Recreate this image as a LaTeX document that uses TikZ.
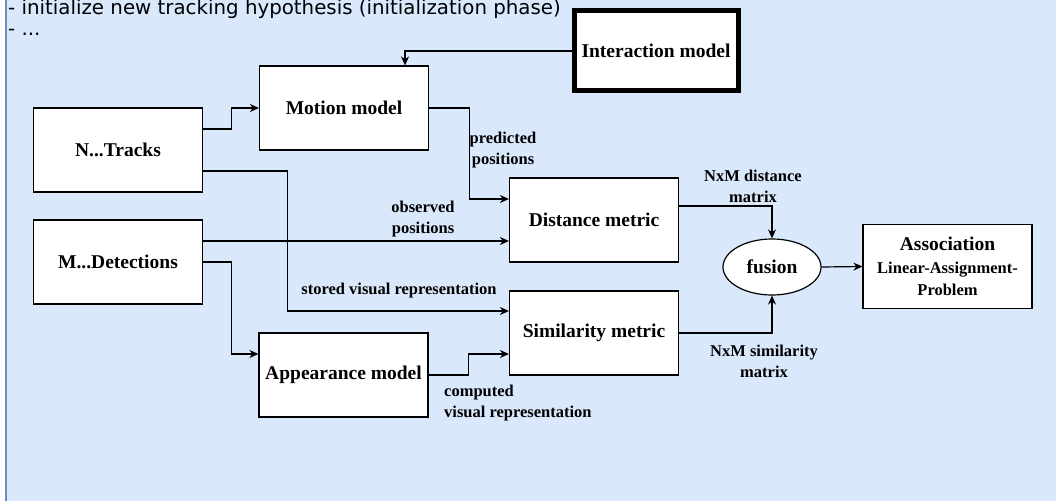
\documentclass[tikz,border=0pt]{standalone}
\usepackage{fontspec}
\setmainfont{Liberation Serif}
\newfontfamily\notefont{DejaVu Sans}
\usepackage{xcolor}
\usepackage{tikz}
\usetikzlibrary{positioning}
\usetikzlibrary{arrows.meta, shapes.geometric}
\definecolor{notefill}{HTML}{DAE8FC}
\definecolor{noteline}{HTML}{6C8EBF}

\begin{document}
\begin{tikzpicture}
                [x=1pt, y=-1pt,
                 box/.style = {draw, fill=white, line width=1.2pt, minimum width=169pt, minimum height=84pt, inner sep=2pt, font=\fontsize{19.5}{22}\selectfont\bfseries},
                 lbl/.style = {font=\fontsize{16.5}{21}\selectfont\bfseries, align=center, inner sep=0pt},
                 arr/.style = {-{Stealth[length=9pt, width=8pt]}, line width=1.2pt},
                 note/.style = {anchor=base west, inner sep=0pt, font=\notefont\fontsize{19.8}{20}\selectfont}]
                \useasboundingbox (0,0) rectangle (1056,500);
                % Note lying behind the whole pipeline
                \draw[fill=notefill, draw=noteline, line width=1.2pt] (6,-10) rectangle (1070,510);
                \node[note] (n1) at (8,15) {- initialize new tracking hypothesis (initialization phase)};
                \node[note] (n2) at (8,36) {- ...};
                % Inputs
                \node[box] (T) at (118,150) {N...Tracks};
                \node[box] (D) at (118,262) {M...Detections};
                % Models
                \node[box] (mm) at (344,108) {Motion model};
                \node[box] (am) at (343.5,375) {Appearance model};
                \node[box, line width=5pt, minimum width=164pt, minimum height=80pt] (im) at (656,51) {Interaction model};
                % Metrics
                \node[box] (dm) at (594,220) {Distance metric};
                \node[box] (sm) at (594,333) {Similarity metric};
                % Fusion and assignment
                \node[draw, fill=white, line width=1.2pt, ellipse, minimum width=98pt, minimum height=56pt, inner sep=1pt, font=\fontsize{19.5}{22}\selectfont\bfseries] (fu) at (772,267) {fusion};
                \node[box, align=center] (as) at (947.5,266.5) {Association\\[1pt]{\fontsize{16.5}{18}\selectfont Linear-Assignment-}\\{\fontsize{16.5}{18}\selectfont Problem}};
                % Lines
                \draw[arr] (im.west) -| ([xshift=61pt]mm.north);
                \draw[arr] ([yshift=21pt]T.east) -- ++(28,0) |- (mm.west);
                \draw[arr] ([yshift=-21pt]T.east) -- ++(84,0) |- ([yshift=22pt]sm.west);
                \draw[arr] (mm.east) -- ++(40,0) |- ([yshift=21pt]dm.west);
                \draw[arr] ([yshift=21pt]D.east) -- ([yshift=-21pt]dm.west);
                \draw[arr] (D.east) -- ++(28,0) |- ([yshift=21pt]am.west);
                \draw[arr] (am.east) -- ++(40,0) |- ([yshift=-21pt]sm.west);
                \draw[arr] ([yshift=14pt]dm.east) -| (fu.north);
                \draw[arr] (sm.east) -| (fu.south);
                \draw[arr] (fu.east) -- (as.west);
                % Labels on the lines
                \node[lbl] (l1) at (503,150) {predicted\\positions};
                \node[lbl] (l2) at (423,219) {observed\\positions};
                \node[lbl] (l3) at (399,291) {stored visual representation};
                \node[lbl, align=left, anchor=west] (l4) at (444,403) {computed\\visual representation};
                \node[lbl] (l5) at (753,186) {NxM distance\\matrix};
                \node[lbl] (l6) at (764,361) {NxM similarity\\matrix};
            \end{tikzpicture}
\end{document}
